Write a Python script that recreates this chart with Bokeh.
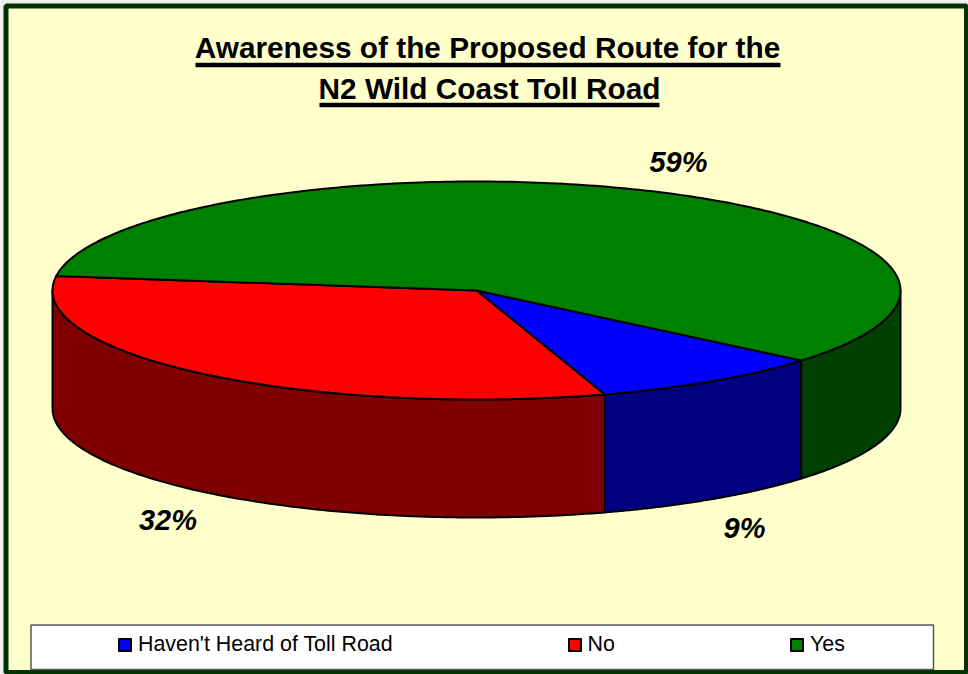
import numpy as np
from bokeh.embed import file_html
from bokeh.resources import INLINE
from bokeh.models import Range1d, Legend, LegendItem, BoxAnnotation
from bokeh.plotting import figure
from bokeh.core.properties import value

categories = ["Haven't Heard of Toll Road", "No", "Yes"]
percents = [9, 32, 59]
top_colors = ["#0000FF", "#FF0000", "#008000"]
side_colors = ["#000080", "#800000", "#004000"]
title_lines = ["Awareness of the Proposed Route for the", "N2 Wild Coast Toll Road"]

W, H = 968, 674
CX, CY, RX, RY, DEPTH = 476, 290, 424, 109, 118
START_DEG = -40

def dx(px):
    return (np.asarray(px, dtype=float) - CX) / RX

def dy(py):
    return (CY - np.asarray(py, dtype=float)) / RY

p = figure(width=W, height=H, output_backend="svg", toolbar_location=None,
           x_range=Range1d(dx(0), dx(W)), y_range=Range1d(dy(H), dy(0)),
           min_border=0, min_border_left=0, min_border_right=0, min_border_top=0, min_border_bottom=0)
p.axis.visible = False
p.grid.visible = False
p.outline_line_color = None
p.background_fill_color = "#EDEDED"
p.border_fill_color = "#EDEDED"
p.styles = {"position": "absolute", "left": "0", "top": "0"}

# chart area with its dark border
p.add_layout(BoxAnnotation(left=float(dx(5.5)), right=float(dx(966)), top=float(dy(5.5)), bottom=float(dy(672)),
                           fill_color="#FFFFCC", fill_alpha=1, line_color="#003300", line_alpha=1, line_width=5,
                           level="underlay"))
# legend panel
p.add_layout(BoxAnnotation(left=float(dx(30.5)), right=float(dx(933)), top=float(dy(624.5)), bottom=float(dy(669)),
                           fill_color="white", fill_alpha=1, line_color="#555555", line_alpha=1, line_width=1.5,
                           level="underlay"))

# slices from the values, clockwise
sweeps = np.radians(np.array(percents) * 3.6)
ends = np.radians(START_DEG) - np.cumsum(sweeps)
starts = ends + sweeps
d = DEPTH / RY

# side walls first: only the part of each slice in the front half shows
for a0, a1, c in zip(starts, ends, side_colors):
    if a0 < -np.pi:
        a0, a1 = a0 + 2 * np.pi, a1 + 2 * np.pi
    l, h = max(a1, -np.pi), min(a0, 0.0)
    if h <= l:
        continue
    t = np.linspace(l, h, 120)
    xs = np.r_[np.cos(t), np.cos(t[::-1])]
    ys = np.r_[np.sin(t), np.sin(t[::-1]) - d]
    p.patch(xs, ys, fill_color=c, line_color="black", line_width=2, line_join="round")

# top faces
renderers = []
for a0, a1, c in zip(starts, ends, top_colors):
    t = np.linspace(a0, a1, 240)
    xs = np.r_[0, np.cos(t), 0]
    ys = np.r_[0, np.sin(t), 0]
    renderers.append(p.patch(xs, ys, fill_color=c, line_color="black", line_width=2, line_join="round"))

# slice labels
label_px = [(744, 527), (167.5, 519), (678, 161)]
p.text([float(dx(a)) for a, _ in label_px], [float(dy(b)) for _, b in label_px],
       text=[f"{v}%" for v in percents],
       text_font=value("Liberation Sans"), text_font_style="bold italic", text_font_size="29px",
       text_align="center", text_baseline="middle", text_color="black")

# title with underlines
title_px = [(487, 47), (489, 88)]
under_px = [(195, 780, 64.5), (319, 659, 104.5)]
p.text([float(dx(a)) for a, _ in title_px], [float(dy(b)) for _, b in title_px], text=title_lines,
       text_font=value("Liberation Sans"), text_font_style="bold", text_font_size="29.8px",
       text_align="center", text_baseline="middle", text_color="black")
for x0, x1, y in under_px:
    p.line([float(dx(x0)), float(dx(x1))], [float(dy(y)), float(dy(y))], line_color="black", line_width=4.5)

legend = Legend(items=[LegendItem(label=n, renderers=[r]) for n, r in zip(categories, renderers)],
                orientation="horizontal", location=(117, H - 657), spacing=174, padding=0, margin=0,
                glyph_width=15, glyph_height=15, label_standoff=6,
                label_text_font="Liberation Sans", label_text_font_size="21.4px", label_text_color="black",
                background_fill_alpha=0, border_line_color=None, label_height=20)
p.add_layout(legend, "center")

open("out.html", "w").write(file_html(p, INLINE))
